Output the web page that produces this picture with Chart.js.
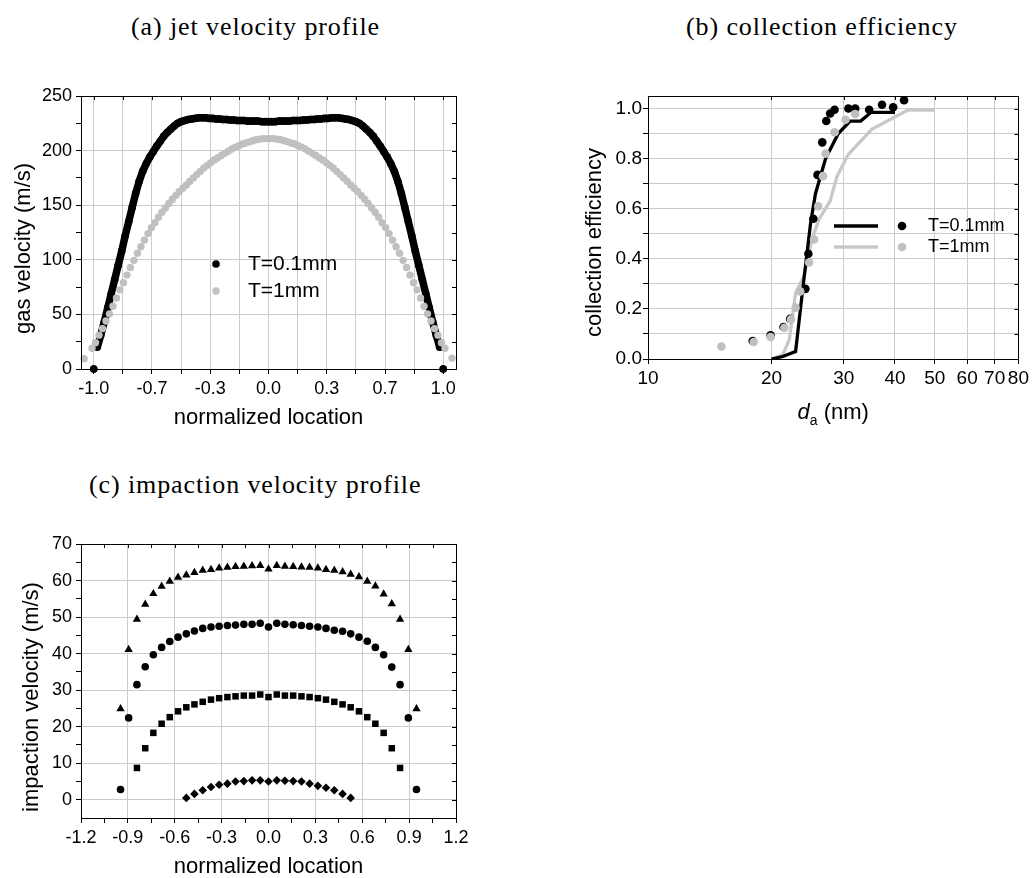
<!DOCTYPE html>
<html>
<head>
<meta charset="utf-8">
<script src="https://cdn.jsdelivr.net/npm/chart.js@4.4.0/dist/chart.umd.min.js"></script>
<style>
  html, body { margin: 0; padding: 0; background: #fff; }
  body { width: 1032px; height: 878px; overflow: hidden; position: relative; }
  canvas { position: absolute; }
  .cap { position: absolute; font-family: "Liberation Serif", serif; font-size: 26px; letter-spacing: 0.9px; line-height: 26px; color: #000; white-space: nowrap; }
</style>
</head>
<body>
<div class="cap" style="left:131px; top:14px;">(a) jet velocity profile</div>
<div class="cap" style="left:686px; top:14px;">(b) collection efficiency</div>
<div class="cap" style="left:89px; top:472px;">(c) impaction velocity profile</div>
<canvas id="chartA" width="480" height="380" style="left:0; top:60px;"></canvas>
<canvas id="chartB" width="472" height="380" style="left:560px; top:60px;"></canvas>
<canvas id="chartC" width="480" height="389" style="left:0; top:500px;"></canvas>
<script>
// ---- (a) jet velocity profile ----
const locBlackA = [-1.00, -0.99,
  -0.98, -0.96, -0.94, -0.92, -0.90, -0.88, -0.86, -0.84, -0.82, -0.80,
  -0.78, -0.76, -0.74, -0.72, -0.70, -0.68, -0.66, -0.64, -0.62, -0.60,
  -0.58, -0.56, -0.54, -0.52, -0.50, -0.48, -0.46, -0.44, -0.42, -0.40,
  -0.38, -0.36, -0.34, -0.32, -0.30, -0.28, -0.26, -0.24, -0.22, -0.20,
  -0.18, -0.16, -0.14, -0.12, -0.10, -0.08, -0.06, -0.04, -0.02, 0.00,
  0.02, 0.04, 0.06, 0.08, 0.10, 0.12, 0.14, 0.16, 0.18, 0.20,
  0.22, 0.24, 0.26, 0.28, 0.30, 0.32, 0.34, 0.36, 0.38, 0.40,
  0.42, 0.44, 0.46, 0.48, 0.50, 0.52, 0.54, 0.56, 0.58, 0.60,
  0.62, 0.64, 0.66, 0.68, 0.70, 0.72, 0.74, 0.76, 0.78, 0.80,
  0.82, 0.84, 0.86, 0.88, 0.90, 0.92, 0.94, 0.96, 0.98,
  0.99, 1.00];
const velBlackA = [0, null,
  20, 31, 43, 56, 69, 82, 95, 108, 122, 135,
  148, 161, 172, 181, 188, 194, 199, 204, 208.5, 213,
  216.5, 219.5, 222.5, 225, 226.5, 227.5, 228.5, 229, 229.5, 230,
  230, 230, 229.5, 229.5, 229, 229, 228.5, 228.5, 228, 228,
  227.5, 227.5, 227.5, 227, 227, 227, 227, 226.5, 226.5, 226.5,
  226.5, 226.5, 227, 227, 227, 227, 227.5, 227.5, 227.5, 228,
  228, 228.5, 228.5, 229, 229, 229.5, 229.5, 230, 230, 230,
  229.5, 229, 228.5, 227.5, 226.5, 225, 222.5, 219.5, 216.5, 213,
  208.5, 204, 199, 194, 188, 181, 172, 161, 148, 135,
  122, 108, 95, 82, 69, 56, 43, 31, 20,
  null, 0];

const locGrayA = [-1.055,
  -1.01, -0.99, -0.97, -0.95, -0.93, -0.91, -0.89, -0.87, -0.85, -0.83,
  -0.81, -0.79, -0.77, -0.75, -0.73, -0.71, -0.69, -0.67, -0.65, -0.63,
  -0.61, -0.59, -0.57, -0.55, -0.53, -0.51, -0.49, -0.47, -0.45, -0.43,
  -0.41, -0.39, -0.37, -0.35, -0.33, -0.31, -0.29, -0.27, -0.25, -0.23,
  -0.21, -0.19, -0.17, -0.15, -0.13, -0.11, -0.09, -0.07, -0.05, -0.03, -0.01,
  0.01, 0.03, 0.05, 0.07, 0.09, 0.11, 0.13, 0.15, 0.17, 0.19, 0.21,
  0.23, 0.25, 0.27, 0.29, 0.31, 0.33, 0.35, 0.37, 0.39, 0.41,
  0.43, 0.45, 0.47, 0.49, 0.51, 0.53, 0.55, 0.57, 0.59, 0.61,
  0.63, 0.65, 0.67, 0.69, 0.71, 0.73, 0.75, 0.77, 0.79, 0.81,
  0.83, 0.85, 0.87, 0.89, 0.91, 0.93, 0.95, 0.97, 0.99, 1.01,
  1.05];
const velGrayA = [9.5,
  19, 24, 31, 37, 44, 50.5, 57.5, 65, 72.5, 79,
  86, 93, 99.5, 106, 112, 118, 124, 129.5, 134, 139,
  143.5, 147.5, 151.5, 155.5, 159, 162.5, 165.5, 168.5, 172, 175,
  178, 181, 184, 186.5, 189, 191.5, 193.5, 195.5, 197.5, 199.5,
  201.5, 203, 204.5, 206, 207, 208, 209, 210, 210.5, 211, 211,
  211, 211, 210.5, 210, 209, 208, 207, 206, 204.5, 203, 201.5,
  199.5, 197.5, 195.5, 193.5, 191.5, 189, 186.5, 184, 181, 178,
  175, 172, 168.5, 165.5, 162.5, 159, 155.5, 151.5, 147.5, 143.5,
  139, 134, 129.5, 124, 118, 112, 106, 99.5, 93, 86,
  79, 72.5, 65, 57.5, 50.5, 44, 37, 31, 24, 19,
  10];

const tickLocA = [-1.0, -0.833, -0.667, -0.5, -0.333, -0.167, 0, 0.167, 0.333, 0.5, 0.667, 0.833, 1.0];
const tickTextA = ['-1.0', '', '-0.7', '', '-0.3', '', '0.0', '', '0.3', '', '0.7', '', '1.0'];
const tickVelA = [0, 25, 50, 75, 100, 125, 150, 175, 200, 225, 250];
const tickVelTextA = ['0', '', '50', '', '100', '', '150', '', '200', '', '250'];

// ---- (b) collection efficiency ----
const sizeDotB01 = [18.0, 19.9, 21.4, 22.2, 24.2, 24.6, 25.3, 25.9, 26.6, 27.2, 27.8, 28.5, 30.8, 32.0, 34.6, 37.2, 39.6, 42.1];
const effDotB01 = [0.072, 0.095, 0.128, 0.16, 0.28, 0.42, 0.56, 0.735, 0.865, 0.95, 0.98, 0.995, 1.0, 1.0, 0.995, 1.015, 1.005, 1.033];
const sizeDotB1 = [15.1, 18.1, 19.9, 21.5, 22.3, 22.9, 23.5, 24.7, 25.4, 26.0, 26.7, 27.1, 28.5, 30.3, 32.0];
const effDotB1 = [0.05, 0.068, 0.088, 0.125, 0.158, 0.205, 0.27, 0.385, 0.477, 0.61, 0.73, 0.82, 0.905, 0.955, 0.978];
const sizeLineB01 = [20.0, 21.3, 22.9, 23.8, 24.9, 25.6, 27.1, 29.1, 31.1, 33.0, 35.0, 40.0];
const effLineB01 = [0.0, 0.01, 0.03, 0.27, 0.54, 0.66, 0.8, 0.9, 0.95, 0.95, 0.985, 0.985];
const sizeLineB1 = [20.0, 21.3, 22.1, 22.9, 24.0, 25.1, 26.1, 27.8, 28.9, 30.8, 35.1, 43.0, 50.0];
const effLineB1 = [0.0, 0.017, 0.077, 0.264, 0.33, 0.477, 0.557, 0.63, 0.73, 0.817, 0.917, 0.994, 0.994];

const tickSizeB = [10, 20, 30, 40, 50, 60, 70, 80];
const tickSizeTextB = ['10', '20', '30', '40', '50', '60', '70', '80'];
const tickEffB = [0, 0.1, 0.2, 0.3, 0.4, 0.5, 0.6, 0.7, 0.8, 0.9, 1.0];
const tickEffTextB = ['0.0', '', '0.2', '', '0.4', '', '0.6', '', '0.8', '', '1.0'];

// ---- (c) impaction velocity profile ----
const locC = [-0.947, -0.895, -0.842, -0.789, -0.737, -0.684, -0.632, -0.579, -0.526, -0.474,
  -0.421, -0.368, -0.316, -0.263, -0.211, -0.158, -0.105, -0.053, 0,
  0.053, 0.105, 0.158, 0.211, 0.263, 0.316, 0.368, 0.421, 0.474, 0.526,
  0.579, 0.632, 0.684, 0.737, 0.789, 0.842, 0.895, 0.947];
const velTriC = [24.9, 41.1, 49.4, 53.5, 56.4, 58.4, 59.8, 60.9, 61.5, 62.2,
  62.8, 63.0, 63.4, 63.6, 63.8, 63.9, 64.0, 64.1, 63.1,
  64.1, 63.9, 63.8, 63.7, 63.6, 63.4, 63.0, 62.8, 62.4, 61.7,
  61.0, 59.8, 58.5, 56.3, 53.6, 49.4, 41.1, 24.9];
const velCircC = [2.8, 22.4, 31.5, 36.4, 39.7, 41.7, 43.3, 44.5, 45.4, 46.2,
  46.9, 47.3, 47.5, 47.7, 47.8, 48.0, 48.0, 48.3, 47.3,
  48.3, 48.0, 47.9, 47.7, 47.5, 47.3, 46.9, 46.4, 46.1, 45.4,
  44.5, 43.4, 41.7, 39.7, 36.3, 31.5, 22.4, 2.8];
const velSqC = [null, null, 8.7, 14.1, 18.3, 20.8, 22.6, 24.2, 25.3, 26.1,
  26.8, 27.4, 27.8, 28.1, 28.3, 28.5, 28.5, 28.8, 28.1,
  28.8, 28.5, 28.5, 28.3, 28.1, 27.8, 27.4, 26.8, 26.1, 25.3,
  24.2, 22.6, 20.8, 18.3, 14.1, 8.7, null, null];
const velDiaC = [null, null, null, null, null, null, null, null, 0.5, 1.6,
  2.6, 3.5, 4.1, 4.4, 5.0, 5.1, 5.3, 5.3, 5.0,
  5.3, 5.2, 5.1, 5.0, 4.4, 3.8, 3.3, 2.6, 1.6, 0.5,
  null, null, null, null, null, null, null, null];

const tickLocC = [-1.2, -1.05, -0.9, -0.75, -0.6, -0.45, -0.3, -0.15, 0, 0.15, 0.3, 0.45, 0.6, 0.75, 0.9, 1.05, 1.2];
const tickLocTextC = ['-1.2', '', '-0.9', '', '-0.6', '', '-0.3', '', '0.0', '', '0.3', '', '0.6', '', '0.9', '', '1.2'];
const tickVelC = [0, 5, 10, 15, 20, 25, 30, 35, 40, 45, 50, 55, 60, 65, 70];
const tickVelTextC = ['0', '', '10', '', '20', '', '30', '', '40', '', '50', '', '60', '', '70'];

const gridGray = '#cbcbcb';
const tickFont = { family: 'Liberation Sans', size: 18 };
const titleFont = { family: 'Liberation Sans', size: 22 };

function pts(xs, ys) {
    return xs.map((x, i) => ({ x: x, y: ys[i] }));
}

// black box round the plot with small inward ticks on top and right
const frame = {
    id: 'frame',
    afterDraw(chart) {
        const { ctx, chartArea: a, scales } = chart;
        ctx.save();
        ctx.strokeStyle = '#000';
        ctx.lineWidth = 1;
        ctx.strokeRect(Math.round(a.left) + 0.5, Math.round(a.top) + 0.5, Math.round(a.right - a.left), Math.round(a.bottom - a.top));
        ctx.beginPath();
        scales.x.ticks.forEach(t => {
            const px = Math.round(scales.x.getPixelForValue(t.value)) + 0.5;
            ctx.moveTo(px, a.top);
            ctx.lineTo(px, a.top + 4);
        });
        scales.y.ticks.forEach(t => {
            const py = Math.round(scales.y.getPixelForValue(t.value)) + 0.5;
            ctx.moveTo(a.right, py);
            ctx.lineTo(a.right - 4, py);
        });
        ctx.stroke();
        ctx.restore();
    }
};

// rotated y title, legend rows
const extras = {
    id: 'extras',
    afterDraw(chart, args, o) {
        const { ctx, chartArea: a } = chart;
        ctx.save();
        ctx.fillStyle = '#000';
        ctx.textAlign = 'center';
        ctx.textBaseline = 'middle';
        ctx.font = '22px "Liberation Sans"';
        ctx.translate(o.yTitleX, (a.top + a.bottom) / 2 + o.yTitleShift);
        ctx.rotate(-Math.PI / 2);
        ctx.fillText(o.yTitle, 0, 0);
        ctx.restore();

        if (!o.keys) return;
        ctx.save();
        ctx.font = o.keyFont;
        ctx.textBaseline = 'middle';
        o.keys.forEach((k, n) => {
            const y = o.keyY + n * o.keyGap;
            if (k.line !== undefined) {
                const ls = chart.data.datasets[k.line];
                ctx.strokeStyle = ls.borderColor;
                ctx.lineWidth = ls.borderWidth;
                ctx.beginPath();
                ctx.moveTo(o.lineX1, y);
                ctx.lineTo(o.lineX2, y);
                ctx.stroke();
            }
            const ds = chart.data.datasets[k.dot];
            ctx.fillStyle = ds.backgroundColor;
            ctx.beginPath();
            ctx.arc(o.dotX, y, ds.pointRadius, 0, Math.PI * 2);
            ctx.fill();
            ctx.fillStyle = '#000';
            ctx.fillText(ds.label, o.textX, y);
        });
        ctx.restore();
    }
};

function baseAxis(cfg) {
    return {
        type: cfg.type || 'linear',
        min: cfg.min,
        max: cfg.max,
        afterBuildTicks: s => { s.ticks = cfg.ticks.map(v => ({ value: v })); },
        afterFit: s => { if (cfg.width) s.width = cfg.width; if (cfg.height) s.height = cfg.height; },
        ticks: {
            autoSkip: false, maxRotation: 0, minRotation: 0, padding: cfg.pad, color: '#000',
            font: cfg.font || tickFont,
            callback: (v, i) => cfg.text[i]
        },
        grid: {
            color: c => (cfg.allGrid || cfg.text[c.index] !== '') ? gridGray : 'rgba(0,0,0,0)',
            tickColor: '#000',
            tickLength: 5,
            lineWidth: 1
        },
        border: { color: '#000', width: 1 },
        title: cfg.title ? { display: true, text: cfg.title, color: '#000', font: titleFont, padding: { top: 0, bottom: cfg.titlePad } } : { display: false }
    };
}

new Chart(document.getElementById('chartA'), {
    type: 'scatter',
    data: {
        datasets: [{
            label: 'T=1mm',
            data: pts(locGrayA, velGrayA),
            backgroundColor: '#c0c0c0',
            borderWidth: 0,
            pointRadius: 3.7,
            clip: false
        }, {
            label: 'T=0.1mm',
            data: pts(locBlackA, velBlackA),
            showLine: true,
            borderColor: '#000',
            borderWidth: 7.5,
            borderJoinStyle: 'round',
            borderCapStyle: 'round',
            backgroundColor: '#000',
            pointRadius: 3.8,
            pointBorderWidth: 0,
            clip: false
        }]
    },
    options: {
        animation: false,
        responsive: false,
        events: [],
        layout: { padding: { top: 36, right: 24, left: 0, bottom: 0 } },
        plugins: {
            legend: { display: false },
            tooltip: { enabled: false },
            extras: {
                yTitle: 'gas velocity (m/s)', yTitleX: 24, yTitleShift: 16,
                keys: [{ dot: 1 }, { dot: 0 }],
                keyFont: '21px "Liberation Sans"', keyY: 204, keyGap: 27,
                dotX: 216, textX: 248
            }
        },
        scales: {
            x: baseAxis({ min: -1.073, max: 1.073, ticks: tickLocA, text: tickTextA, allGrid: true, height: 71, pad: 4, title: 'normalized location', titlePad: 9 }),
            y: baseAxis({ min: 0, max: 250, ticks: tickVelA, text: tickVelTextA, width: 81, pad: 4 })
        }
    },
    plugins: [frame, extras]
});

const daLabel = {
    id: 'daLabel',
    afterDraw(chart) {
        const { ctx, chartArea: a } = chart;
        ctx.save();
        ctx.fillStyle = '#000';
        ctx.textBaseline = 'alphabetic';
        const f1 = 'italic 22px "Liberation Sans"', f2 = '14px "Liberation Sans"', f3 = '22px "Liberation Sans"';
        ctx.font = f1; const w1 = ctx.measureText('d').width;
        ctx.font = f2; const w2 = ctx.measureText('a').width;
        ctx.font = f3; const w3 = ctx.measureText(' (nm)').width;
        let x = (a.left + a.right) / 2 - (w1 + w2 + w3) / 2;
        const base = 359;
        ctx.font = f1; ctx.fillText('d', x, base); x += w1;
        ctx.font = f2; ctx.fillText('a', x, base + 6); x += w2;
        ctx.font = f3; ctx.fillText(' (nm)', x, base);
        ctx.restore();
    }
};

new Chart(document.getElementById('chartB'), {
    type: 'scatter',
    data: {
        datasets: [{
            label: 'T=1mm',
            data: pts(sizeDotB1, effDotB1),
            backgroundColor: '#c0c0c0',
            borderWidth: 0,
            pointRadius: 4.3,
            clip: false
        }, {
            label: 'T=0.1mm',
            data: pts(sizeDotB01, effDotB01),
            backgroundColor: '#000',
            borderWidth: 0,
            pointRadius: 4.3,
            clip: false
        }, {
            label: 'T=0.1mm',
            data: pts(sizeLineB01, effLineB01),
            showLine: true,
            borderColor: '#000',
            borderWidth: 3.3,
            pointRadius: 0
        }, {
            label: 'T=1mm',
            data: pts(sizeLineB1, effLineB1),
            showLine: true,
            borderColor: '#c8c8c8',
            borderWidth: 3.3,
            pointRadius: 0
        }]
    },
    options: {
        animation: false,
        responsive: false,
        events: [],
        layout: { padding: { top: 36, right: 10, left: 0, bottom: 0 } },
        plugins: {
            legend: { display: false },
            tooltip: { enabled: false },
            extras: {
                yTitle: 'collection efficiency', yTitleX: 35, yTitleShift: 15,
                keys: [{ line: 2, dot: 1 }, { line: 3, dot: 0 }],
                keyFont: '18px "Liberation Sans"', keyY: 166, keyGap: 21,
                lineX1: 274, lineX2: 318, dotX: 342, textX: 368
            }
        },
        scales: {
            x: baseAxis({ type: 'logarithmic', min: 10, max: 80, ticks: tickSizeB, text: tickSizeTextB, allGrid: true, height: 81, pad: 3, font: { family: 'Liberation Sans', size: 19 } }),
            y: baseAxis({ min: 0, max: 1.05, ticks: tickEffB, text: tickEffTextB, allGrid: true, width: 88, pad: 1, font: { family: 'Liberation Sans', size: 19 } })
        }
    },
    plugins: [frame, extras, daLabel]
});

new Chart(document.getElementById('chartC'), {
    type: 'scatter',
    data: {
        datasets: [{
            label: 'triangles',
            data: pts(locC, velTriC),
            pointStyle: 'triangle',
            backgroundColor: '#000',
            borderWidth: 0,
            pointRadius: 4.8
        }, {
            label: 'circles',
            data: pts(locC, velCircC),
            pointStyle: 'circle',
            backgroundColor: '#000',
            borderWidth: 0,
            pointRadius: 3.8
        }, {
            label: 'squares',
            data: pts(locC, velSqC),
            pointStyle: 'rect',
            backgroundColor: '#000',
            borderWidth: 0,
            pointRadius: 4.6
        }, {
            label: 'diamonds',
            data: pts(locC, velDiaC),
            pointStyle: 'rectRot',
            backgroundColor: '#000',
            borderWidth: 0,
            pointRadius: 4.3
        }]
    },
    options: {
        animation: false,
        responsive: false,
        events: [],
        layout: { padding: { top: 44, right: 24, left: 0, bottom: 0 } },
        plugins: {
            legend: { display: false },
            tooltip: { enabled: false },
            extras: { yTitle: 'impaction velocity (m/s)', yTitleX: 32, yTitleShift: 16 }
        },
        scales: {
            x: baseAxis({ min: -1.2, max: 1.2, ticks: tickLocC, text: tickLocTextC, height: 71, pad: 4, title: 'normalized location', titlePad: 9 }),
            y: baseAxis({ min: -5, max: 70, ticks: tickVelC, text: tickVelTextC, width: 81, pad: 4 })
        }
    },
    plugins: [frame, extras]
});
</script>
</body>
</html>
